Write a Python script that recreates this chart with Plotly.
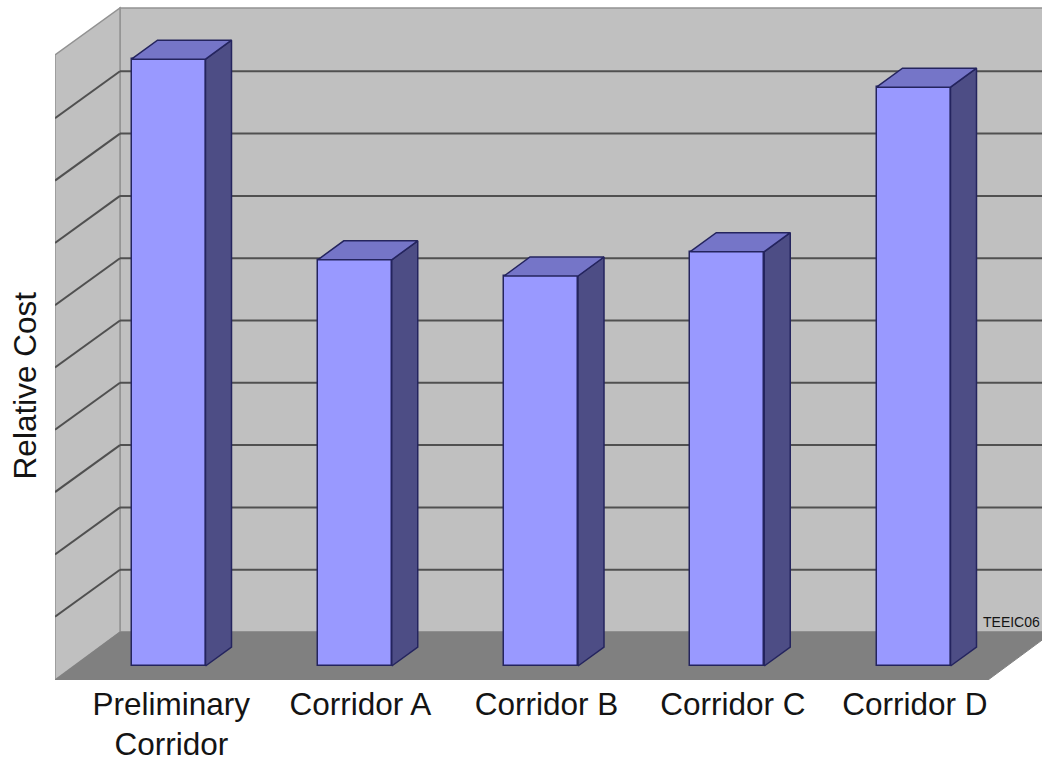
import plotly.graph_objects as go

categories = ["Preliminary<br>Corridor", "Corridor A", "Corridor B", "Corridor C", "Corridor D"]
values = [9.74, 6.52, 6.26, 6.65, 9.29]
grid_levels = [1, 2, 3, 4, 5, 6, 7, 8, 9]
label_offsets = [0.015, 0.03, 0.03, 0.03, 0.007]

FONT = "Liberation Sans, Arial, sans-serif"
W, H = 1042, 761
FLOOR_Y = 680
PX_PER_CAT = 186.25
PX_PER_UNIT = 62.3
X0_PX = 168.5      # pixel centre of first bar's front face
BACK_Y_PX = 632    # pixel of value 0 on back wall

def xu(px):
    return (px - X0_PX) / PX_PER_CAT

def yu(py):
    return (BACK_Y_PX - py) / PX_PER_UNIT

x_range = [xu(55), xu(W)]
y_range = [yu(FLOOR_Y), yu(0)]
bar_w = 74 / PX_PER_CAT
bar_dx = 26 / PX_PER_CAT
bar_dy = 19 / PX_PER_UNIT
bar_base = yu(666)
wall_dx = 65 / PX_PER_CAT
wall_dy = 47 / PX_PER_UNIT
wall_top = yu(8)
back_x = xu(120)
front_x = xu(55)
floor_y = yu(FLOOR_Y)
right_x = xu(988)

WALL = "#c0c0c0"
FLOOR = "#808080"
EDGE = "#929292"
GRID = "#505050"
FRONT = "#9999ff"
TOP = "#7575c8"
SIDE = "#4d4d85"
OUTLINE = "#24245e"
TEXT = "#141414"


def poly(points):
    return "M " + " L ".join(f"{x:.4f} {y:.4f}" for x, y in points) + " Z"


shapes = []
shapes.append(dict(type="path", xref="x", yref="y", layer="below", fillcolor=WALL,
                   line=dict(color=EDGE, width=1.5),
                   path=poly([(back_x, 0), (back_x, wall_top), (xu(W + 20), wall_top), (xu(W + 20), 0)])))
shapes.append(dict(type="path", xref="x", yref="y", layer="below", fillcolor=WALL,
                   line=dict(color=EDGE, width=1.5),
                   path=poly([(front_x, floor_y), (front_x, wall_top - wall_dy), (back_x, wall_top), (back_x, 0)])))
shapes.append(dict(type="path", xref="x", yref="y", layer="below", fillcolor=FLOOR,
                   line=dict(color=FLOOR, width=1),
                   path=poly([(front_x, floor_y), (right_x, floor_y), (right_x + wall_dx, 0), (back_x, 0)])))
for g in grid_levels:
    shapes.append(dict(type="line", xref="x", yref="y", layer="below", x0=back_x, x1=xu(W + 20), y0=g, y1=g,
                       line=dict(color=GRID, width=2)))
    shapes.append(dict(type="line", xref="x", yref="y", layer="below", x0=back_x, x1=front_x, y0=g, y1=g - wall_dy,
                       line=dict(color=GRID, width=2)))

fig = go.Figure()
positions = list(range(len(values)))

fig.add_trace(go.Bar(x=positions, y=values, base=bar_base, width=bar_w,
                     marker=dict(color=FRONT, line=dict(color=OUTLINE, width=1.5)),
                     hoverinfo="skip", showlegend=False))

for i, v in zip(positions, values):
    l = i - bar_w / 2
    r = i + bar_w / 2
    t = bar_base + v
    fig.add_trace(go.Scatter(
        x=[r, r + bar_dx, r + bar_dx, r, r],
        y=[bar_base, bar_base + bar_dy, t + bar_dy, t, bar_base],
        mode="lines", fill="toself", fillcolor=SIDE,
        line=dict(color=OUTLINE, width=1.5), hoverinfo="skip", showlegend=False))
    fig.add_trace(go.Scatter(
        x=[l, r, r + bar_dx, l + bar_dx, l],
        y=[t, t, t + bar_dy, t + bar_dy, t],
        mode="lines", fill="toself", fillcolor=TOP,
        line=dict(color=OUTLINE, width=1.5), hoverinfo="skip", showlegend=False))

fig.update_layout(
    width=W, height=H,
    margin=dict(l=55, r=0, t=0, b=H - FLOOR_Y, pad=0),
    paper_bgcolor="white", plot_bgcolor="white",
    font=dict(family=FONT, size=31.5, color=TEXT),
    shapes=shapes,
    bargap=0,
    xaxis=dict(range=x_range, tickvals=[p + o for p, o in zip(positions, label_offsets)], ticktext=categories,
               showgrid=False, zeroline=False, showline=False, ticks="", ticklabelstandoff=2,
               automargin=False,
               tickfont=dict(family=FONT, size=31.5, color=TEXT), fixedrange=True),
    yaxis=dict(range=y_range, showgrid=False, zeroline=False, showline=False, showticklabels=False,
               ticks="", automargin=False, fixedrange=True),
    annotations=[
        dict(text="Relative Cost", xref="paper", yref="y", x=-0.03, y=yu(385), xanchor="center",
             yanchor="middle", textangle=-90, showarrow=False,
             font=dict(family=FONT, size=31.5, color=TEXT)),
        dict(text="TEEIC06", xref="x", yref="y", x=xu(981), y=yu(622), xanchor="left", yanchor="middle",
             showarrow=False, font=dict(family=FONT, size=14, color=TEXT)),
    ],
)

fig.write_html("out.html", config={"displayModeBar": False},
               post_script="document.body.style.margin='0';document.body.style.overflow='hidden';")
